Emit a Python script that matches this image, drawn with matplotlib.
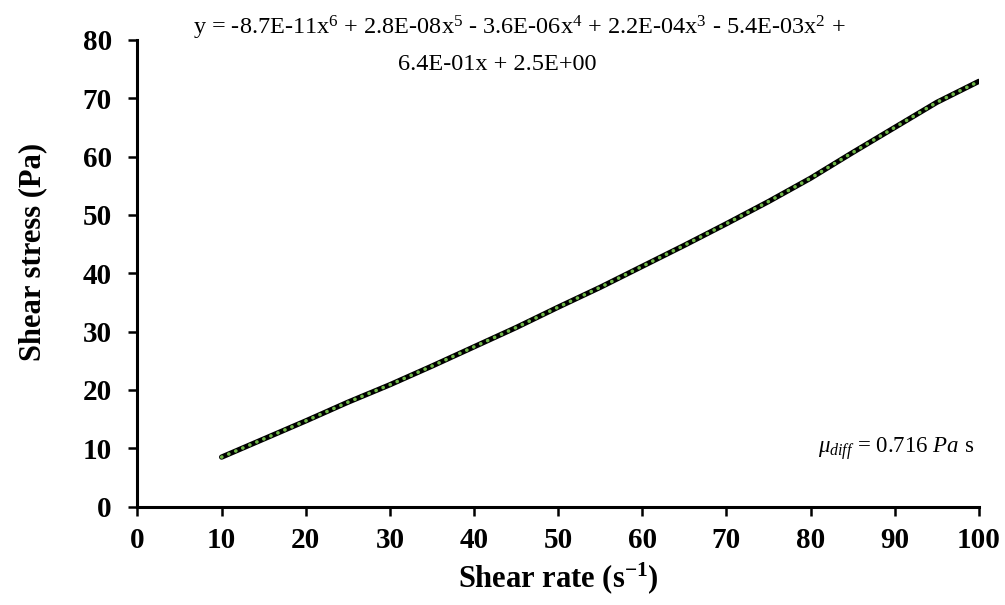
import numpy as np
import matplotlib
matplotlib.use('Agg')
import matplotlib.pyplot as plt

plt.rcParams['font.family'] = 'Liberation Serif'
plt.rcParams['mathtext.fontset'] = 'custom'
plt.rcParams['mathtext.rm'] = 'Liberation Serif'
plt.rcParams['mathtext.it'] = 'Liberation Serif:italic'
plt.rcParams['mathtext.bf'] = 'Liberation Serif:bold'

# measured flow curve
shear_rate = [10, 15, 20, 25, 30, 35, 40, 45, 50, 55, 60, 65, 70, 75, 80, 85, 90, 95, 100]
shear_stress = [8.5, 11.6, 14.7, 17.9, 20.9, 24.1, 27.4, 30.7, 34.2, 37.6, 41.2,
                44.8, 48.5, 52.3, 56.3, 60.7, 65.0, 69.3, 72.9]

xticks = list(range(0, 101, 10))
yticks = list(range(0, 81, 10))

fit_line1 = 'y = -8.7E-11x$^{6}$ + 2.8E-08x$^{5}$ - 3.6E-06x$^{4}$ + 2.2E-04x$^{3}$ - 5.4E-03x$^{2}$ +'
fit_line2 = '6.4E-01x + 2.5E+00'
mu_label = r'$\mu_{diff}$ = 0.716 $Pa$ s'

fig = plt.figure(figsize=(10.05, 6.05), dpi=100)
ax = fig.add_axes([0.1368, 0.1625, 0.974 - 0.1368, 0.934 - 0.1625])

ax.plot(shear_rate, shear_stress, color='black', lw=3.8, solid_capstyle='round')
ax.plot(shear_rate, shear_stress, color='#70B848', lw=2.5,
        linestyle=(0, (0.1, 2.1)), dash_capstyle='round')

ax.set_xlim(0, 100)
ax.set_ylim(0, 80)
ax.set_xticks(xticks)
ax.set_yticks(yticks)
for s in ['top', 'right']:
    ax.spines[s].set_visible(False)
for s in ['left', 'bottom']:
    ax.spines[s].set_linewidth(2.2)
ax.tick_params(direction='out', length=6.5, width=1.8, labelsize=21)
ax.tick_params(axis='x', pad=8)
ax.tick_params(axis='y', pad=12)
for lab in ax.get_xticklabels() + ax.get_yticklabels():
    lab.set_fontweight('bold')

ax.set_xlabel('Shear rate (s$^{\\mathbf{-1}}$)', fontsize=22, fontweight='bold')
ax.set_ylabel('Shear stress (Pa)', fontsize=22, fontweight='bold')
ax.xaxis.set_label_coords(0.5, -0.115)
ax.yaxis.set_label_coords(-0.107, 0.545)

fig.text(0.517, 1 - 35 / 605, fit_line1, ha='center', va='baseline', fontsize=17.5)
fig.text(0.495, 1 - 70 / 605, fit_line2, ha='center', va='baseline', fontsize=17.5)
ax.text(0.995, 0.125, mu_label, transform=ax.transAxes, ha='right', va='center', fontsize=16.5)

fig.savefig('out.png', dpi=100)
